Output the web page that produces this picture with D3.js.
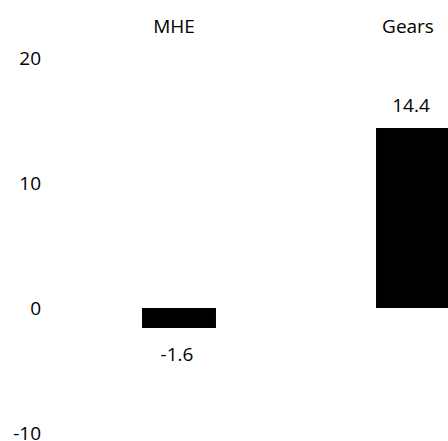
<!DOCTYPE html>
<html>
<head>
<meta charset="utf-8">
<script src="https://cdn.jsdelivr.net/npm/d3@7"></script>
<style>
  body { margin: 0; background: #fff; }
  text { font-family: "Open Sans", sans-serif; fill: #000; }
</style>
</head>
<body>
<div id="chart"></div>
<script>
"use strict";

const categories = ["MHE", "Gears"];
const values = [-1.6, 14.4];
const valueLabels = ["-1.6", "14.4"];
const yTicks = [-10, 0, 10, 20];

const size = {
    width: 448,
    height: 441
}

window.onload = function () {
    let svg = d3.select("#chart")
        .append("svg")
        .attr("width", size.width)
        .attr("height", size.height);

    // zero line sits near y=308, roughly 12.5px per unit
    let yScale = d3.scaleLinear()
        .domain([-10, 20])
        .range([433, 58]);

    let xScale = d3.scaleBand()
        .domain(categories)
        .range([62, 530])
        .paddingInner(0.684)
        .paddingOuter(0.342);

    let yAxis = d3.axisLeft(yScale)
        .tickValues(yTicks)
        .tickSize(0)
        .tickPadding(0)
        .tickFormat(d => String(d));   // plain hyphen, not the unicode minus

    let yG = svg.append("g")
        .attr("transform", "translate(41, 0)")
        .call(yAxis);
    yG.select(".domain").remove();
    yG.selectAll("text")
        .style("font-family", "'Open Sans', sans-serif")
        .style("font-size", "19px")
        .attr("dy", "0.35em");

    let rows = categories.map((c, i) => ({ cat: c, val: values[i], label: valueLabels[i] }));

    svg.selectAll(".bar")
        .data(rows)
        .enter()
        .append("rect")
        .attr("class", "bar")
        .attr("x", d => xScale(d.cat))
        .attr("width", xScale.bandwidth())
        .attr("y", d => yScale(Math.max(0, d.val)))
        .attr("height", d => Math.abs(yScale(d.val) - yScale(0)))
        .style("fill", "#000");

    // category names along the top
    svg.selectAll(".cat")
        .data(rows)
        .enter()
        .append("text")
        .attr("class", "cat")
        .attr("x", d => xScale(d.cat) + xScale.bandwidth() / 2 - 5)
        .attr("y", 33)
        .attr("text-anchor", "middle")
        .style("font-size", "19px")
        .text(d => d.cat);

    // value labels, above positive bars and below negative ones
    svg.selectAll(".val")
        .data(rows)
        .enter()
        .append("text")
        .attr("class", "val")
        .attr("x", d => xScale(d.cat) + xScale.bandwidth() / 2 - 2)
        .attr("y", d => d.val >= 0 ? yScale(d.val) - 16 : yScale(d.val) + 33)
        .attr("text-anchor", "middle")
        .style("font-size", "19px")
        .text(d => d.label);
}
</script>
</body>
</html>
